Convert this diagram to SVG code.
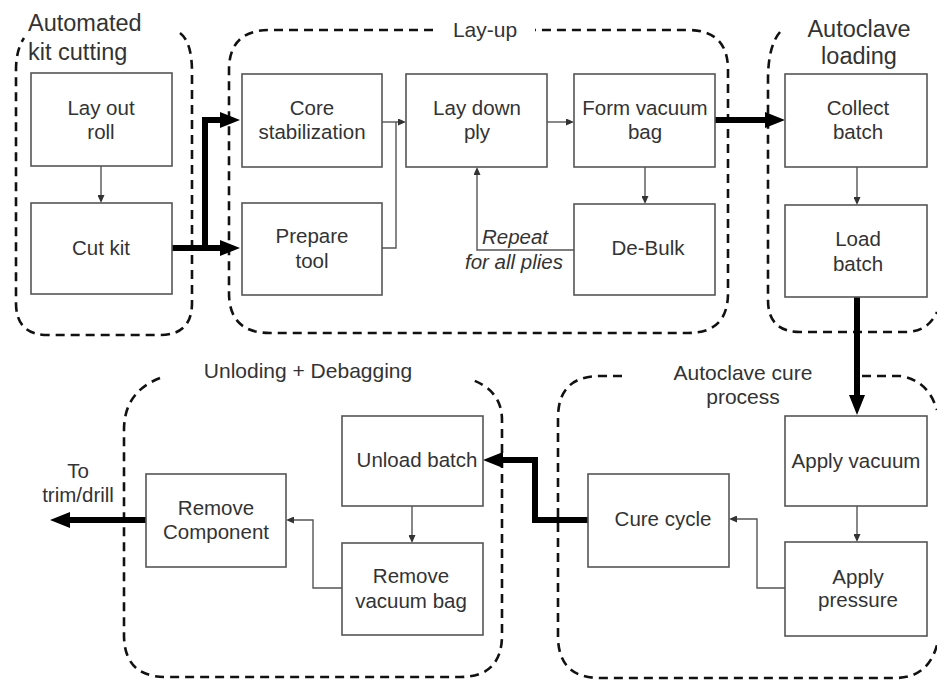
<svg xmlns="http://www.w3.org/2000/svg" width="937" height="680" viewBox="0 0 937 680">
<style>
.bg{fill:#ffffff}
.box{fill:#ffffff;stroke:#555555;stroke-width:1.6}
.t{font-family:"Liberation Sans",Arial,sans-serif;font-size:20.5px;fill:#333333;text-anchor:middle}
.gl{font-family:"Liberation Sans",Arial,sans-serif;font-size:21px;fill:#333333;text-anchor:middle}
.gb{font-size:23.5px}
.st{text-anchor:start}
.it{font-style:italic}
.grp{fill:none;stroke:#111111;stroke-width:2.6;stroke-dasharray:9 6}
.thin{fill:none;stroke:#555555;stroke-width:1.4}
.thick{fill:none;stroke:#000000;stroke-width:6}
</style>
<defs>
<marker id="sm" viewBox="0 0 8 7" refX="4" refY="3.5" markerWidth="8" markerHeight="7" markerUnits="userSpaceOnUse" orient="auto">
<path d="M0,0 L8,3.5 L0,7 z" fill="#333333"/>
</marker>
<marker id="big" viewBox="0 0 20 16" refX="10" refY="8" markerWidth="20" markerHeight="16" markerUnits="userSpaceOnUse" orient="auto">
<path d="M0,0 L20,8 L0,16 z" fill="#000000"/>
</marker>
</defs>
<rect class="bg" x="0" y="0" width="937" height="680"/>

<g id="groups">
<g id="g-kit">
<path class="grp" d="M180,33 Q192,42 192,72 L192,303 Q192,335 160,335 L48,335 Q16,335 16,303 L16,70 Q16,50 24,38"/>
<text class="gl gb st" x="28" y="31">Automated</text>
<text class="gl gb st" x="28" y="60">kit cutting</text>
</g>
<g id="g-layup">
<path class="grp" d="M433,30 L270,30 Q229,30 229,70 L229,293 Q229,333 270,333 L688,333 Q728,333 728,293 L728,70 Q728,30 688,30 L535,30"/>
<text class="gl" x="485" y="37">Lay-up</text>
</g>
<g id="g-load">
<path class="grp" d="M780,32 Q768,46 768,80 L768,300 Q768,332 800,332 L905,332 Q928,332 937,312"/>
<text class="gl gb" x="859" y="37">Autoclave</text>
<text class="gl gb" x="859" y="64">loading</text>
</g>
<g id="g-unload">
<path class="grp" d="M160,378 Q124,392 124,430 L124,635 Q124,677 166,677 L460,677 Q502,677 502,635 L502,420 Q502,390 470,379"/>
<text class="gl" x="308" y="378">Unloding + Debagging</text>
</g>
<g id="g-cure">
<path class="grp" d="M622,376 L600,376 Q558,376 558,418 L558,636 Q558,678 600,678 L895,678 Q928,678 937,645"/>
<path class="grp" d="M862,376 L900,376 Q928,380 937,410"/>
<text class="gl" x="743" y="380">Autoclave cure</text>
<text class="gl" x="743" y="404">process</text>
</g>
</g>

<g id="connectors">
<path class="thin" d="M101,166 V199" marker-end="url(#sm)"/>
<path class="thick" d="M172,248 H205 V120 H230" marker-end="url(#big)"/>
<path class="thick" d="M205,248 H230" marker-end="url(#big)"/>
<path class="thin" d="M382,122 H402" marker-end="url(#sm)"/>
<path class="thin" d="M382,248 H396 V122"/>
<path class="thin" d="M547,122 H570" marker-end="url(#sm)"/>
<path class="thin" d="M645,167 V200" marker-end="url(#sm)"/>
<path class="thin" d="M574,250 H477 V171" marker-end="url(#sm)"/>
<path class="thick" d="M715,120 H775" marker-end="url(#big)"/>
<path class="thin" d="M857,167 V201" marker-end="url(#sm)"/>
<path class="thick" d="M857,297 V405" marker-end="url(#big)"/>
<path class="thin" d="M857,506 V538" marker-end="url(#sm)"/>
<path class="thin" d="M785,588 H757 V519 H733" marker-end="url(#sm)"/>
<path class="thick" d="M588,520 H535 V460 H493" marker-end="url(#big)"/>
<path class="thin" d="M412,506 V539" marker-end="url(#sm)"/>
<path class="thin" d="M342,588 H313 V520 H290" marker-end="url(#sm)"/>
<path class="thick" d="M146,520 H60" marker-end="url(#big)"/>
<text class="t it" x="515" y="244">Repeat</text>
<text class="t it" x="514" y="269">for all plies</text>
<text class="t" x="78" y="478">To</text>
<text class="t" x="78" y="502">trim/drill</text>
</g>

<g id="n-layout"><rect class="box" x="31" y="73" width="141" height="93"/><text class="t" x="101" y="115">Lay out</text><text class="t" x="101" y="139">roll</text></g>
<g id="n-cutkit"><rect class="box" x="31" y="203" width="141" height="91"/><text class="t" x="101" y="255">Cut kit</text></g>
<g id="n-core"><rect class="box" x="242" y="74" width="140" height="93"/><text class="t" x="312" y="115">Core</text><text class="t" x="312" y="139">stabilization</text></g>
<g id="n-prepare"><rect class="box" x="242" y="203" width="140" height="92"/><text class="t" x="312" y="243">Prepare</text><text class="t" x="312" y="268">tool</text></g>
<g id="n-laydown"><rect class="box" x="406" y="74" width="141" height="93"/><text class="t" x="477" y="115">Lay down</text><text class="t" x="477" y="139">ply</text></g>
<g id="n-formbag"><rect class="box" x="574" y="74" width="141" height="93"/><text class="t" x="645" y="115">Form vacuum</text><text class="t" x="645" y="139">bag</text></g>
<g id="n-debulk"><rect class="box" x="574" y="204" width="141" height="91"/><text class="t" x="648" y="255">De-Bulk</text></g>
<g id="n-collect"><rect class="box" x="785" y="74" width="142" height="93"/><text class="t" x="858" y="115">Collect</text><text class="t" x="858" y="139">batch</text></g>
<g id="n-loadbatch"><rect class="box" x="785" y="205" width="142" height="92"/><text class="t" x="858" y="246">Load</text><text class="t" x="858" y="271">batch</text></g>
<g id="n-applyvac"><rect class="box" x="785" y="416" width="142" height="90"/><text class="t" x="856" y="468">Apply vacuum</text></g>
<g id="n-applypress"><rect class="box" x="785" y="542" width="142" height="94"/><text class="t" x="858" y="584">Apply</text><text class="t" x="858" y="607">pressure</text></g>
<g id="n-cure"><rect class="box" x="588" y="474" width="141" height="93"/><text class="t" x="663" y="526">Cure cycle</text></g>
<g id="n-unload"><rect class="box" x="342" y="416" width="141" height="90"/><text class="t" x="417" y="467">Unload batch</text></g>
<g id="n-removebag"><rect class="box" x="342" y="543" width="141" height="92"/><text class="t" x="411" y="583">Remove</text><text class="t" x="411" y="608">vacuum bag</text></g>
<g id="n-removecomp"><rect class="box" x="146" y="474" width="140" height="93"/><text class="t" x="216" y="515">Remove</text><text class="t" x="216" y="539">Component</text></g>
</svg>
